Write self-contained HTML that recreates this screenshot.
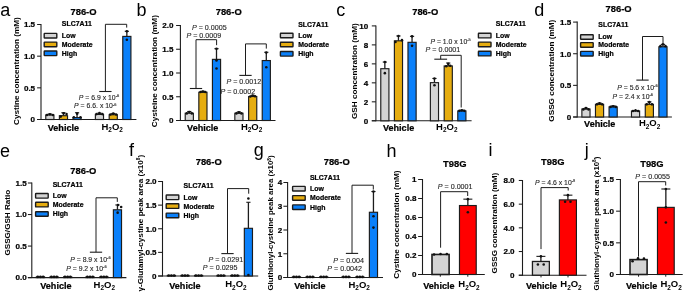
<!DOCTYPE html>
<html><head><meta charset="utf-8"><style>
html,body{margin:0;padding:0;background:#fff;}
body{width:685px;height:293px;overflow:hidden;}
svg{display:block;font-family:"Liberation Sans", sans-serif;will-change:transform;}
</style></head><body>
<svg width="685" height="293" viewBox="0 0 685 293" font-family='"Liberation Sans", sans-serif'>
<rect width="685" height="293" fill="#fff"/>
<text transform="translate(0.20,16.30) scale(1.0,1)" font-size="18" font-weight="normal" text-anchor="start" fill="#000">a</text>
<text transform="translate(83.50,15.00) scale(1.02,1)" font-size="9.2" font-weight="bold" text-anchor="middle" fill="#000" stroke="#000" stroke-width="0.22">786-O</text>
<line x1="41.00" y1="24.00" x2="41.00" y2="120.00" stroke="#1c1c1c" stroke-width="1.1"/>
<line x1="37.10" y1="119.50" x2="136.40" y2="119.50" stroke="#1c1c1c" stroke-width="1.1"/>
<line x1="37.10" y1="119.50" x2="41.00" y2="119.50" stroke="#1c1c1c" stroke-width="1.05"/>
<text transform="translate(35.10,122.30) scale(1.02,1)" font-size="7.9" font-weight="bold" text-anchor="end" fill="#000" stroke="#000" stroke-width="0.22">0</text>
<line x1="37.10" y1="87.84" x2="41.00" y2="87.84" stroke="#1c1c1c" stroke-width="1.05"/>
<text transform="translate(35.10,90.63) scale(1.02,1)" font-size="7.9" font-weight="bold" text-anchor="end" fill="#000" stroke="#000" stroke-width="0.22">0.5</text>
<line x1="37.10" y1="56.17" x2="41.00" y2="56.17" stroke="#1c1c1c" stroke-width="1.05"/>
<text transform="translate(35.10,58.97) scale(1.02,1)" font-size="7.9" font-weight="bold" text-anchor="end" fill="#000" stroke="#000" stroke-width="0.22">1.0</text>
<line x1="37.10" y1="24.50" x2="41.00" y2="24.50" stroke="#1c1c1c" stroke-width="1.05"/>
<text transform="translate(35.10,27.30) scale(1.02,1)" font-size="7.9" font-weight="bold" text-anchor="end" fill="#000" stroke="#000" stroke-width="0.22">1.5</text>
<line x1="49.85" y1="115.00" x2="49.85" y2="113.99" stroke="#1c1c1c" stroke-width="1.3"/>
<line x1="47.75" y1="113.99" x2="51.95" y2="113.99" stroke="#1c1c1c" stroke-width="1.1"/>
<rect x="45.77" y="115.00" width="8.15" height="4.50" fill="#d4d4d4" stroke="#1c1c1c" stroke-width="1.15"/>
<circle cx="46.95" cy="115.00" r="1.3" fill="#111"/>
<circle cx="49.85" cy="114.31" r="1.3" fill="#111"/>
<circle cx="52.85" cy="115.00" r="1.3" fill="#111"/>
<line x1="63.45" y1="115.70" x2="63.45" y2="112.72" stroke="#1c1c1c" stroke-width="1.3"/>
<line x1="61.35" y1="112.72" x2="65.55" y2="112.72" stroke="#1c1c1c" stroke-width="1.1"/>
<rect x="59.38" y="115.70" width="8.15" height="3.80" fill="#e6ad10" stroke="#1c1c1c" stroke-width="1.15"/>
<circle cx="60.75" cy="116.59" r="1.3" fill="#111"/>
<circle cx="63.65" cy="113.36" r="1.3" fill="#111"/>
<circle cx="66.55" cy="113.99" r="1.3" fill="#111"/>
<line x1="77.05" y1="117.60" x2="77.05" y2="112.72" stroke="#1c1c1c" stroke-width="1.3"/>
<line x1="74.95" y1="112.72" x2="79.15" y2="112.72" stroke="#1c1c1c" stroke-width="1.1"/>
<rect x="72.97" y="117.60" width="8.15" height="1.90" fill="#0a80fa" stroke="#1c1c1c" stroke-width="1.15"/>
<circle cx="73.85" cy="117.28" r="1.3" fill="#111"/>
<circle cx="77.15" cy="113.67" r="1.3" fill="#111"/>
<circle cx="80.45" cy="117.28" r="1.3" fill="#111"/>
<line x1="99.45" y1="114.43" x2="99.45" y2="113.17" stroke="#1c1c1c" stroke-width="1.3"/>
<line x1="97.35" y1="113.17" x2="101.55" y2="113.17" stroke="#1c1c1c" stroke-width="1.1"/>
<rect x="95.38" y="114.43" width="8.15" height="5.07" fill="#d4d4d4" stroke="#1c1c1c" stroke-width="1.15"/>
<circle cx="96.55" cy="114.12" r="1.3" fill="#111"/>
<circle cx="99.45" cy="113.17" r="1.3" fill="#111"/>
<circle cx="102.35" cy="114.12" r="1.3" fill="#111"/>
<line x1="113.25" y1="114.75" x2="113.25" y2="113.48" stroke="#1c1c1c" stroke-width="1.3"/>
<line x1="111.15" y1="113.48" x2="115.35" y2="113.48" stroke="#1c1c1c" stroke-width="1.1"/>
<rect x="109.17" y="114.75" width="8.15" height="4.75" fill="#e6ad10" stroke="#1c1c1c" stroke-width="1.15"/>
<circle cx="110.35" cy="114.43" r="1.3" fill="#111"/>
<circle cx="113.25" cy="113.67" r="1.3" fill="#111"/>
<circle cx="116.15" cy="114.43" r="1.3" fill="#111"/>
<line x1="126.85" y1="36.41" x2="126.85" y2="31.28" stroke="#1c1c1c" stroke-width="1.3"/>
<line x1="124.75" y1="31.28" x2="128.95" y2="31.28" stroke="#1c1c1c" stroke-width="1.1"/>
<rect x="122.77" y="36.41" width="8.15" height="83.09" fill="#0a80fa" stroke="#1c1c1c" stroke-width="1.15"/>
<circle cx="126.85" cy="31.28" r="1.3" fill="#111"/>
<circle cx="126.85" cy="39.77" r="1.3" fill="#111"/>
<text transform="translate(61.80,26.40) scale(1.02,1)" font-size="6.8" font-weight="bold" text-anchor="start" fill="#000" stroke="#000" stroke-width="0.22">SLC7A11</text>
<rect x="44.20" y="33.40" width="12.60" height="4.60" fill="#d4d4d4" stroke="#1c1c1c" stroke-width="1.4" rx="0.5"/>
<text transform="translate(61.80,38.15) scale(1.02,1)" font-size="6.8" font-weight="bold" text-anchor="start" fill="#000" stroke="#000" stroke-width="0.22">Low</text>
<rect x="44.20" y="42.10" width="12.60" height="4.60" fill="#e6ad10" stroke="#1c1c1c" stroke-width="1.4" rx="0.5"/>
<text transform="translate(61.80,46.85) scale(1.02,1)" font-size="6.8" font-weight="bold" text-anchor="start" fill="#000" stroke="#000" stroke-width="0.22">Moderate</text>
<rect x="44.20" y="51.00" width="12.60" height="4.60" fill="#0a80fa" stroke="#1c1c1c" stroke-width="1.4" rx="0.5"/>
<text transform="translate(61.80,55.75) scale(1.02,1)" font-size="6.8" font-weight="bold" text-anchor="start" fill="#000" stroke="#000" stroke-width="0.22">High</text>
<polyline points="105.40,91.50 105.40,24.30 126.70,24.30 126.70,27.60" fill="none" stroke="#1c1c1c" stroke-width="1.0"/>
<line x1="99.25" y1="91.50" x2="111.55" y2="91.50" stroke="#1c1c1c" stroke-width="1.1"/>
<text transform="translate(119.20,99.90) scale(1.02,1)" font-size="6.75" font-weight="normal" text-anchor="end" fill="#262626" stroke="#262626" stroke-width="0.12"><tspan font-style="italic">P</tspan> = 6.9 x 10<tspan font-size="3.9" dy="-2.9">-6</tspan></text>
<text transform="translate(116.40,108.40) scale(1.02,1)" font-size="6.75" font-weight="normal" text-anchor="end" fill="#262626" stroke="#262626" stroke-width="0.12"><tspan font-style="italic">P</tspan> = 6.6. x 10<tspan font-size="3.9" dy="-2.9">-6</tspan></text>
<text transform="translate(63.40,130.80) scale(1.02,1)" font-size="8.9" font-weight="bold" text-anchor="middle" fill="#000" stroke="#000" stroke-width="0.22">Vehicle</text>
<text transform="translate(112.20,129.60) scale(0.97,1)" font-size="9.8" font-weight="bold" text-anchor="middle" fill="#000">H<tspan font-size="6.6" dy="2.4">2</tspan><tspan dy="-2.4">O</tspan><tspan font-size="6.6" dy="2.4">2</tspan></text>
<text transform="translate(18.90,125.00) rotate(-90)" font-size="8.1" font-weight="bold" textLength="107.80" lengthAdjust="spacingAndGlyphs" fill="#000">Cystine concentration (mM)</text>
<text transform="translate(136.40,16.30) scale(1.0,1)" font-size="18" font-weight="normal" text-anchor="start" fill="#000">b</text>
<text transform="translate(228.70,15.00) scale(1.02,1)" font-size="9.2" font-weight="bold" text-anchor="middle" fill="#000" stroke="#000" stroke-width="0.22">786-O</text>
<line x1="180.40" y1="25.00" x2="180.40" y2="121.00" stroke="#1c1c1c" stroke-width="1.1"/>
<line x1="176.10" y1="120.50" x2="275.50" y2="120.50" stroke="#1c1c1c" stroke-width="1.1"/>
<line x1="176.10" y1="120.50" x2="180.40" y2="120.50" stroke="#1c1c1c" stroke-width="1.05"/>
<text transform="translate(173.50,123.30) scale(1.02,1)" font-size="7.9" font-weight="bold" text-anchor="end" fill="#000" stroke="#000" stroke-width="0.22">0</text>
<line x1="176.10" y1="96.75" x2="180.40" y2="96.75" stroke="#1c1c1c" stroke-width="1.05"/>
<text transform="translate(173.50,99.55) scale(1.02,1)" font-size="7.9" font-weight="bold" text-anchor="end" fill="#000" stroke="#000" stroke-width="0.22">0.5</text>
<line x1="176.10" y1="73.00" x2="180.40" y2="73.00" stroke="#1c1c1c" stroke-width="1.05"/>
<text transform="translate(173.50,75.80) scale(1.02,1)" font-size="7.9" font-weight="bold" text-anchor="end" fill="#000" stroke="#000" stroke-width="0.22">1.0</text>
<line x1="176.10" y1="49.25" x2="180.40" y2="49.25" stroke="#1c1c1c" stroke-width="1.05"/>
<text transform="translate(173.50,52.05) scale(1.02,1)" font-size="7.9" font-weight="bold" text-anchor="end" fill="#000" stroke="#000" stroke-width="0.22">1.5</text>
<line x1="176.10" y1="25.50" x2="180.40" y2="25.50" stroke="#1c1c1c" stroke-width="1.05"/>
<text transform="translate(173.50,28.30) scale(1.02,1)" font-size="7.9" font-weight="bold" text-anchor="end" fill="#000" stroke="#000" stroke-width="0.22">2.0</text>
<line x1="189.30" y1="113.23" x2="189.30" y2="111.47" stroke="#1c1c1c" stroke-width="1.3"/>
<line x1="187.20" y1="111.47" x2="191.40" y2="111.47" stroke="#1c1c1c" stroke-width="1.1"/>
<rect x="185.23" y="113.23" width="8.15" height="7.27" fill="#d4d4d4" stroke="#1c1c1c" stroke-width="1.15"/>
<circle cx="186.80" cy="113.38" r="1.3" fill="#111"/>
<circle cx="189.30" cy="111.95" r="1.3" fill="#111"/>
<circle cx="191.80" cy="113.38" r="1.3" fill="#111"/>
<line x1="202.90" y1="92.24" x2="202.90" y2="91.29" stroke="#1c1c1c" stroke-width="1.3"/>
<line x1="200.80" y1="91.29" x2="205.00" y2="91.29" stroke="#1c1c1c" stroke-width="1.1"/>
<rect x="198.83" y="92.24" width="8.15" height="28.26" fill="#e6ad10" stroke="#1c1c1c" stroke-width="1.15"/>
<circle cx="200.50" cy="92.00" r="1.3" fill="#111"/>
<circle cx="202.90" cy="91.53" r="1.3" fill="#111"/>
<circle cx="205.30" cy="92.00" r="1.3" fill="#111"/>
<line x1="216.50" y1="59.37" x2="216.50" y2="48.68" stroke="#1c1c1c" stroke-width="1.3"/>
<line x1="214.40" y1="48.68" x2="218.60" y2="48.68" stroke="#1c1c1c" stroke-width="1.1"/>
<rect x="212.43" y="59.37" width="8.15" height="61.13" fill="#0a80fa" stroke="#1c1c1c" stroke-width="1.15"/>
<circle cx="216.50" cy="48.78" r="1.3" fill="#111"/>
<circle cx="216.50" cy="60.41" r="1.3" fill="#111"/>
<circle cx="216.50" cy="68.49" r="1.3" fill="#111"/>
<line x1="238.90" y1="113.23" x2="238.90" y2="111.95" stroke="#1c1c1c" stroke-width="1.3"/>
<line x1="236.80" y1="111.95" x2="241.00" y2="111.95" stroke="#1c1c1c" stroke-width="1.1"/>
<rect x="234.83" y="113.23" width="8.15" height="7.27" fill="#d4d4d4" stroke="#1c1c1c" stroke-width="1.15"/>
<circle cx="236.40" cy="113.38" r="1.3" fill="#111"/>
<circle cx="238.90" cy="112.42" r="1.3" fill="#111"/>
<circle cx="241.40" cy="113.38" r="1.3" fill="#111"/>
<line x1="252.70" y1="96.51" x2="252.70" y2="95.33" stroke="#1c1c1c" stroke-width="1.3"/>
<line x1="250.60" y1="95.33" x2="254.80" y2="95.33" stroke="#1c1c1c" stroke-width="1.1"/>
<rect x="248.62" y="96.51" width="8.15" height="23.99" fill="#e6ad10" stroke="#1c1c1c" stroke-width="1.15"/>
<circle cx="250.30" cy="96.51" r="1.3" fill="#111"/>
<circle cx="252.70" cy="95.56" r="1.3" fill="#111"/>
<circle cx="255.10" cy="96.28" r="1.3" fill="#111"/>
<line x1="266.30" y1="60.55" x2="266.30" y2="52.29" stroke="#1c1c1c" stroke-width="1.3"/>
<line x1="264.20" y1="52.29" x2="268.40" y2="52.29" stroke="#1c1c1c" stroke-width="1.1"/>
<rect x="262.23" y="60.55" width="8.15" height="59.95" fill="#0a80fa" stroke="#1c1c1c" stroke-width="1.15"/>
<circle cx="266.30" cy="52.58" r="1.3" fill="#111"/>
<circle cx="266.30" cy="67.30" r="1.3" fill="#111"/>
<text transform="translate(298.20,26.80) scale(1.02,1)" font-size="6.8" font-weight="bold" text-anchor="start" fill="#000" stroke="#000" stroke-width="0.22">SLC7A11</text>
<rect x="280.40" y="33.20" width="12.60" height="4.60" fill="#d4d4d4" stroke="#1c1c1c" stroke-width="1.4" rx="0.5"/>
<text transform="translate(298.20,37.95) scale(1.02,1)" font-size="6.8" font-weight="bold" text-anchor="start" fill="#000" stroke="#000" stroke-width="0.22">Low</text>
<rect x="280.40" y="42.20" width="12.60" height="4.60" fill="#e6ad10" stroke="#1c1c1c" stroke-width="1.4" rx="0.5"/>
<text transform="translate(298.20,46.95) scale(1.02,1)" font-size="6.8" font-weight="bold" text-anchor="start" fill="#000" stroke="#000" stroke-width="0.22">Moderate</text>
<rect x="280.40" y="51.50" width="12.60" height="4.60" fill="#0a80fa" stroke="#1c1c1c" stroke-width="1.4" rx="0.5"/>
<text transform="translate(298.20,56.25) scale(1.02,1)" font-size="6.8" font-weight="bold" text-anchor="start" fill="#000" stroke="#000" stroke-width="0.22">High</text>
<polyline points="196.00,88.50 196.00,39.70 216.60,39.70 216.60,45.20" fill="none" stroke="#1c1c1c" stroke-width="1.0"/>
<line x1="189.85" y1="88.50" x2="202.15" y2="88.50" stroke="#1c1c1c" stroke-width="1.1"/>
<polyline points="245.50,75.40 245.50,43.90 266.30,43.90 266.30,48.60" fill="none" stroke="#1c1c1c" stroke-width="1.0"/>
<line x1="239.35" y1="75.40" x2="251.65" y2="75.40" stroke="#1c1c1c" stroke-width="1.1"/>
<text transform="translate(226.60,29.80) scale(1.02,1)" font-size="7.0" font-weight="normal" text-anchor="end" fill="#262626" stroke="#262626" stroke-width="0.12"><tspan font-style="italic">P</tspan> = 0.0005</text>
<text transform="translate(221.10,38.00) scale(1.02,1)" font-size="7.0" font-weight="normal" text-anchor="end" fill="#262626" stroke="#262626" stroke-width="0.12"><tspan font-style="italic">P</tspan> = 0.0009</text>
<text transform="translate(261.10,84.40) scale(1.02,1)" font-size="7.0" font-weight="normal" text-anchor="end" fill="#262626" stroke="#262626" stroke-width="0.12"><tspan font-style="italic">P</tspan> = 0.0012</text>
<text transform="translate(255.10,94.00) scale(1.02,1)" font-size="7.0" font-weight="normal" text-anchor="end" fill="#262626" stroke="#262626" stroke-width="0.12"><tspan font-style="italic">P</tspan> = 0.0002</text>
<text transform="translate(202.70,130.90) scale(1.02,1)" font-size="8.9" font-weight="bold" text-anchor="middle" fill="#000" stroke="#000" stroke-width="0.22">Vehicle</text>
<text transform="translate(251.60,129.70) scale(0.97,1)" font-size="9.8" font-weight="bold" text-anchor="middle" fill="#000">H<tspan font-size="6.6" dy="2.4">2</tspan><tspan dy="-2.4">O</tspan><tspan font-size="6.6" dy="2.4">2</tspan></text>
<text transform="translate(156.50,127.20) rotate(-90)" font-size="8.1" font-weight="bold" textLength="112.10" lengthAdjust="spacingAndGlyphs" fill="#000">Cysteine concentration (mM)</text>
<text transform="translate(336.20,16.10) scale(1.0,1)" font-size="18" font-weight="normal" text-anchor="start" fill="#000">c</text>
<text transform="translate(425.20,15.00) scale(1.02,1)" font-size="9.2" font-weight="bold" text-anchor="middle" fill="#000" stroke="#000" stroke-width="0.22">786-O</text>
<line x1="375.90" y1="25.40" x2="375.90" y2="121.30" stroke="#1c1c1c" stroke-width="1.1"/>
<line x1="371.80" y1="120.80" x2="471.60" y2="120.80" stroke="#1c1c1c" stroke-width="1.1"/>
<line x1="371.80" y1="120.80" x2="375.90" y2="120.80" stroke="#1c1c1c" stroke-width="1.05"/>
<text transform="translate(368.30,123.60) scale(1.02,1)" font-size="7.9" font-weight="bold" text-anchor="end" fill="#000" stroke="#000" stroke-width="0.22">0</text>
<line x1="371.80" y1="101.82" x2="375.90" y2="101.82" stroke="#1c1c1c" stroke-width="1.05"/>
<text transform="translate(368.30,104.62) scale(1.02,1)" font-size="7.9" font-weight="bold" text-anchor="end" fill="#000" stroke="#000" stroke-width="0.22">2</text>
<line x1="371.80" y1="82.84" x2="375.90" y2="82.84" stroke="#1c1c1c" stroke-width="1.05"/>
<text transform="translate(368.30,85.64) scale(1.02,1)" font-size="7.9" font-weight="bold" text-anchor="end" fill="#000" stroke="#000" stroke-width="0.22">4</text>
<line x1="371.80" y1="63.86" x2="375.90" y2="63.86" stroke="#1c1c1c" stroke-width="1.05"/>
<text transform="translate(368.30,66.66) scale(1.02,1)" font-size="7.9" font-weight="bold" text-anchor="end" fill="#000" stroke="#000" stroke-width="0.22">6</text>
<line x1="371.80" y1="44.88" x2="375.90" y2="44.88" stroke="#1c1c1c" stroke-width="1.05"/>
<text transform="translate(368.30,47.68) scale(1.02,1)" font-size="7.9" font-weight="bold" text-anchor="end" fill="#000" stroke="#000" stroke-width="0.22">8</text>
<line x1="371.80" y1="25.90" x2="375.90" y2="25.90" stroke="#1c1c1c" stroke-width="1.05"/>
<text transform="translate(368.30,28.70) scale(1.02,1)" font-size="7.9" font-weight="bold" text-anchor="end" fill="#000" stroke="#000" stroke-width="0.22">10</text>
<line x1="384.85" y1="68.70" x2="384.85" y2="62.06" stroke="#1c1c1c" stroke-width="1.3"/>
<line x1="382.75" y1="62.06" x2="386.95" y2="62.06" stroke="#1c1c1c" stroke-width="1.1"/>
<rect x="380.78" y="68.70" width="8.15" height="52.10" fill="#d4d4d4" stroke="#1c1c1c" stroke-width="1.15"/>
<circle cx="384.85" cy="62.06" r="1.3" fill="#111"/>
<circle cx="384.85" cy="73.16" r="1.3" fill="#111"/>
<line x1="398.45" y1="40.80" x2="398.45" y2="35.96" stroke="#1c1c1c" stroke-width="1.3"/>
<line x1="396.35" y1="35.96" x2="400.55" y2="35.96" stroke="#1c1c1c" stroke-width="1.1"/>
<rect x="394.38" y="40.80" width="8.15" height="80.00" fill="#e6ad10" stroke="#1c1c1c" stroke-width="1.15"/>
<circle cx="395.45" cy="42.03" r="1.3" fill="#111"/>
<circle cx="398.45" cy="35.96" r="1.3" fill="#111"/>
<circle cx="401.95" cy="40.13" r="1.3" fill="#111"/>
<line x1="412.05" y1="42.32" x2="412.05" y2="36.34" stroke="#1c1c1c" stroke-width="1.3"/>
<line x1="409.95" y1="36.34" x2="414.15" y2="36.34" stroke="#1c1c1c" stroke-width="1.1"/>
<rect x="407.98" y="42.32" width="8.15" height="78.48" fill="#0a80fa" stroke="#1c1c1c" stroke-width="1.15"/>
<circle cx="412.05" cy="36.34" r="1.3" fill="#111"/>
<circle cx="412.05" cy="45.83" r="1.3" fill="#111"/>
<line x1="434.45" y1="82.65" x2="434.45" y2="78.47" stroke="#1c1c1c" stroke-width="1.3"/>
<line x1="432.35" y1="78.47" x2="436.55" y2="78.47" stroke="#1c1c1c" stroke-width="1.1"/>
<rect x="430.38" y="82.65" width="8.15" height="38.15" fill="#d4d4d4" stroke="#1c1c1c" stroke-width="1.15"/>
<circle cx="434.45" cy="78.47" r="1.3" fill="#111"/>
<circle cx="434.45" cy="85.21" r="1.3" fill="#111"/>
<line x1="448.25" y1="65.95" x2="448.25" y2="63.01" stroke="#1c1c1c" stroke-width="1.3"/>
<line x1="446.15" y1="63.01" x2="450.35" y2="63.01" stroke="#1c1c1c" stroke-width="1.1"/>
<rect x="444.18" y="65.95" width="8.15" height="54.85" fill="#e6ad10" stroke="#1c1c1c" stroke-width="1.15"/>
<circle cx="446.25" cy="66.23" r="1.3" fill="#111"/>
<circle cx="448.25" cy="63.86" r="1.3" fill="#111"/>
<circle cx="450.25" cy="65.76" r="1.3" fill="#111"/>
<line x1="461.85" y1="110.93" x2="461.85" y2="110.17" stroke="#1c1c1c" stroke-width="1.3"/>
<line x1="459.75" y1="110.17" x2="463.95" y2="110.17" stroke="#1c1c1c" stroke-width="1.1"/>
<rect x="457.78" y="110.93" width="8.15" height="9.87" fill="#0a80fa" stroke="#1c1c1c" stroke-width="1.15"/>
<circle cx="459.35" cy="110.84" r="1.3" fill="#111"/>
<circle cx="461.85" cy="110.36" r="1.3" fill="#111"/>
<circle cx="464.35" cy="110.84" r="1.3" fill="#111"/>
<text transform="translate(495.80,26.20) scale(1.02,1)" font-size="6.8" font-weight="bold" text-anchor="start" fill="#000" stroke="#000" stroke-width="0.22">SLC7A11</text>
<rect x="478.40" y="33.30" width="12.60" height="4.60" fill="#d4d4d4" stroke="#1c1c1c" stroke-width="1.4" rx="0.5"/>
<text transform="translate(495.80,38.05) scale(1.02,1)" font-size="6.8" font-weight="bold" text-anchor="start" fill="#000" stroke="#000" stroke-width="0.22">Low</text>
<rect x="478.40" y="42.10" width="12.60" height="4.60" fill="#e6ad10" stroke="#1c1c1c" stroke-width="1.4" rx="0.5"/>
<text transform="translate(495.80,46.85) scale(1.02,1)" font-size="6.8" font-weight="bold" text-anchor="start" fill="#000" stroke="#000" stroke-width="0.22">Moderate</text>
<rect x="478.40" y="51.30" width="12.60" height="4.60" fill="#0a80fa" stroke="#1c1c1c" stroke-width="1.4" rx="0.5"/>
<text transform="translate(495.80,56.05) scale(1.02,1)" font-size="6.8" font-weight="bold" text-anchor="start" fill="#000" stroke="#000" stroke-width="0.22">High</text>
<polyline points="440.70,59.20 440.70,55.30 461.20,55.30 461.20,107.50" fill="none" stroke="#1c1c1c" stroke-width="1.0"/>
<line x1="434.30" y1="59.20" x2="447.10" y2="59.20" stroke="#1c1c1c" stroke-width="1.1"/>
<text transform="translate(470.80,43.80) scale(1.02,1)" font-size="6.75" font-weight="normal" text-anchor="end" fill="#262626" stroke="#262626" stroke-width="0.12"><tspan font-style="italic">P</tspan> = 1.0 x 10<tspan font-size="3.9" dy="-2.9">-5</tspan></text>
<text transform="translate(460.30,52.30) scale(1.02,1)" font-size="7.0" font-weight="normal" text-anchor="end" fill="#262626" stroke="#262626" stroke-width="0.12"><tspan font-style="italic">P</tspan> = 0.0001</text>
<text transform="translate(398.60,131.10) scale(1.02,1)" font-size="8.9" font-weight="bold" text-anchor="middle" fill="#000" stroke="#000" stroke-width="0.22">Vehicle</text>
<text transform="translate(446.80,129.90) scale(0.97,1)" font-size="9.8" font-weight="bold" text-anchor="middle" fill="#000">H<tspan font-size="6.6" dy="2.4">2</tspan><tspan dy="-2.4">O</tspan><tspan font-size="6.6" dy="2.4">2</tspan></text>
<text transform="translate(356.60,119.10) rotate(-90)" font-size="8.1" font-weight="bold" textLength="95.90" lengthAdjust="spacingAndGlyphs" fill="#000">GSH concentration (mM)</text>
<text transform="translate(534.30,16.10) scale(1.0,1)" font-size="18" font-weight="normal" text-anchor="start" fill="#000">d</text>
<text transform="translate(618.60,11.50) scale(1.02,1)" font-size="9.2" font-weight="bold" text-anchor="middle" fill="#000" stroke="#000" stroke-width="0.22">786-O</text>
<line x1="577.20" y1="21.59" x2="577.20" y2="117.50" stroke="#1c1c1c" stroke-width="1.1"/>
<line x1="573.10" y1="117.00" x2="671.90" y2="117.00" stroke="#1c1c1c" stroke-width="1.1"/>
<line x1="573.10" y1="117.00" x2="577.20" y2="117.00" stroke="#1c1c1c" stroke-width="1.05"/>
<text transform="translate(571.30,119.80) scale(1.02,1)" font-size="7.9" font-weight="bold" text-anchor="end" fill="#000" stroke="#000" stroke-width="0.22">0</text>
<line x1="573.10" y1="85.36" x2="577.20" y2="85.36" stroke="#1c1c1c" stroke-width="1.05"/>
<text transform="translate(571.30,88.16) scale(1.02,1)" font-size="7.9" font-weight="bold" text-anchor="end" fill="#000" stroke="#000" stroke-width="0.22">0.5</text>
<line x1="573.10" y1="53.73" x2="577.20" y2="53.73" stroke="#1c1c1c" stroke-width="1.05"/>
<text transform="translate(571.30,56.53) scale(1.02,1)" font-size="7.9" font-weight="bold" text-anchor="end" fill="#000" stroke="#000" stroke-width="0.22">1.0</text>
<line x1="573.10" y1="22.09" x2="577.20" y2="22.09" stroke="#1c1c1c" stroke-width="1.05"/>
<text transform="translate(571.30,24.89) scale(1.02,1)" font-size="7.9" font-weight="bold" text-anchor="end" fill="#000" stroke="#000" stroke-width="0.22">1.5</text>
<line x1="585.95" y1="109.03" x2="585.95" y2="108.14" stroke="#1c1c1c" stroke-width="1.3"/>
<line x1="583.85" y1="108.14" x2="588.05" y2="108.14" stroke="#1c1c1c" stroke-width="1.1"/>
<rect x="581.88" y="109.03" width="8.15" height="7.97" fill="#d4d4d4" stroke="#1c1c1c" stroke-width="1.15"/>
<circle cx="583.35" cy="109.41" r="1.3" fill="#111"/>
<circle cx="585.95" cy="108.14" r="1.3" fill="#111"/>
<circle cx="588.55" cy="109.41" r="1.3" fill="#111"/>
<line x1="599.55" y1="104.35" x2="599.55" y2="103.08" stroke="#1c1c1c" stroke-width="1.3"/>
<line x1="597.45" y1="103.08" x2="601.65" y2="103.08" stroke="#1c1c1c" stroke-width="1.1"/>
<rect x="595.47" y="104.35" width="8.15" height="12.65" fill="#e6ad10" stroke="#1c1c1c" stroke-width="1.15"/>
<circle cx="596.95" cy="104.35" r="1.3" fill="#111"/>
<circle cx="599.55" cy="103.40" r="1.3" fill="#111"/>
<circle cx="602.15" cy="104.35" r="1.3" fill="#111"/>
<line x1="613.15" y1="106.88" x2="613.15" y2="105.93" stroke="#1c1c1c" stroke-width="1.3"/>
<line x1="611.05" y1="105.93" x2="615.25" y2="105.93" stroke="#1c1c1c" stroke-width="1.1"/>
<rect x="609.07" y="106.88" width="8.15" height="10.12" fill="#0a80fa" stroke="#1c1c1c" stroke-width="1.15"/>
<circle cx="610.55" cy="106.88" r="1.3" fill="#111"/>
<circle cx="613.15" cy="106.24" r="1.3" fill="#111"/>
<circle cx="615.75" cy="106.88" r="1.3" fill="#111"/>
<line x1="635.55" y1="111.05" x2="635.55" y2="110.67" stroke="#1c1c1c" stroke-width="1.3"/>
<line x1="633.45" y1="110.67" x2="637.65" y2="110.67" stroke="#1c1c1c" stroke-width="1.1"/>
<rect x="631.47" y="111.05" width="8.15" height="5.95" fill="#d4d4d4" stroke="#1c1c1c" stroke-width="1.15"/>
<circle cx="632.95" cy="111.05" r="1.3" fill="#111"/>
<circle cx="635.55" cy="110.42" r="1.3" fill="#111"/>
<circle cx="638.15" cy="111.05" r="1.3" fill="#111"/>
<line x1="649.35" y1="104.35" x2="649.35" y2="101.82" stroke="#1c1c1c" stroke-width="1.3"/>
<line x1="647.25" y1="101.82" x2="651.45" y2="101.82" stroke="#1c1c1c" stroke-width="1.1"/>
<rect x="645.27" y="104.35" width="8.15" height="12.65" fill="#e6ad10" stroke="#1c1c1c" stroke-width="1.15"/>
<circle cx="646.75" cy="104.35" r="1.3" fill="#111"/>
<circle cx="649.35" cy="102.13" r="1.3" fill="#111"/>
<circle cx="651.95" cy="104.35" r="1.3" fill="#111"/>
<line x1="662.95" y1="46.77" x2="662.95" y2="44.37" stroke="#1c1c1c" stroke-width="1.3"/>
<line x1="660.85" y1="44.37" x2="665.05" y2="44.37" stroke="#1c1c1c" stroke-width="1.1"/>
<rect x="658.88" y="46.77" width="8.15" height="70.23" fill="#0a80fa" stroke="#1c1c1c" stroke-width="1.15"/>
<circle cx="660.45" cy="46.14" r="1.3" fill="#111"/>
<circle cx="662.95" cy="44.24" r="1.3" fill="#111"/>
<circle cx="665.45" cy="46.14" r="1.3" fill="#111"/>
<text transform="translate(598.30,27.10) scale(1.02,1)" font-size="6.8" font-weight="bold" text-anchor="start" fill="#000" stroke="#000" stroke-width="0.22">SLC7A11</text>
<rect x="580.60" y="34.70" width="12.60" height="4.60" fill="#d4d4d4" stroke="#1c1c1c" stroke-width="1.4" rx="0.5"/>
<text transform="translate(598.30,39.45) scale(1.02,1)" font-size="6.8" font-weight="bold" text-anchor="start" fill="#000" stroke="#000" stroke-width="0.22">Low</text>
<rect x="580.60" y="42.60" width="12.60" height="4.60" fill="#e6ad10" stroke="#1c1c1c" stroke-width="1.4" rx="0.5"/>
<text transform="translate(598.30,47.35) scale(1.02,1)" font-size="6.8" font-weight="bold" text-anchor="start" fill="#000" stroke="#000" stroke-width="0.22">Moderate</text>
<rect x="580.60" y="51.40" width="12.60" height="4.60" fill="#0a80fa" stroke="#1c1c1c" stroke-width="1.4" rx="0.5"/>
<text transform="translate(598.30,56.15) scale(1.02,1)" font-size="6.8" font-weight="bold" text-anchor="start" fill="#000" stroke="#000" stroke-width="0.22">High</text>
<polyline points="642.50,80.10 642.50,36.50 663.00,36.50 663.00,43.00" fill="none" stroke="#1c1c1c" stroke-width="1.0"/>
<line x1="636.35" y1="80.10" x2="648.65" y2="80.10" stroke="#1c1c1c" stroke-width="1.1"/>
<text transform="translate(657.60,89.70) scale(1.02,1)" font-size="6.75" font-weight="normal" text-anchor="end" fill="#262626" stroke="#262626" stroke-width="0.12"><tspan font-style="italic">P</tspan> = 5.6 x 10<tspan font-size="3.9" dy="-2.9">-6</tspan></text>
<text transform="translate(653.00,98.60) scale(1.02,1)" font-size="6.75" font-weight="normal" text-anchor="end" fill="#262626" stroke="#262626" stroke-width="0.12"><tspan font-style="italic">P</tspan> = 2.4 x 10<tspan font-size="3.9" dy="-2.9">-6</tspan></text>
<text transform="translate(599.70,127.40) scale(1.02,1)" font-size="8.9" font-weight="bold" text-anchor="middle" fill="#000" stroke="#000" stroke-width="0.22">Vehicle</text>
<text transform="translate(649.60,126.20) scale(0.97,1)" font-size="9.8" font-weight="bold" text-anchor="middle" fill="#000">H<tspan font-size="6.6" dy="2.4">2</tspan><tspan dy="-2.4">O</tspan><tspan font-size="6.6" dy="2.4">2</tspan></text>
<text transform="translate(553.90,121.70) rotate(-90)" font-size="8.1" font-weight="bold" textLength="102.00" lengthAdjust="spacingAndGlyphs" fill="#000">GSSG concentration (mM)</text>
<text transform="translate(0.00,156.50) scale(1.0,1)" font-size="18" font-weight="normal" text-anchor="start" fill="#000">e</text>
<text transform="translate(83.30,174.40) scale(1.02,1)" font-size="9.2" font-weight="bold" text-anchor="middle" fill="#000" stroke="#000" stroke-width="0.22">786-O</text>
<line x1="31.80" y1="182.50" x2="31.80" y2="278.10" stroke="#1c1c1c" stroke-width="1.1"/>
<line x1="27.90" y1="277.60" x2="126.40" y2="277.60" stroke="#1c1c1c" stroke-width="1.1"/>
<line x1="27.90" y1="277.60" x2="31.80" y2="277.60" stroke="#1c1c1c" stroke-width="1.05"/>
<text transform="translate(26.80,280.40) scale(1.02,1)" font-size="7.9" font-weight="bold" text-anchor="end" fill="#000" stroke="#000" stroke-width="0.22">0.0</text>
<line x1="27.90" y1="246.07" x2="31.80" y2="246.07" stroke="#1c1c1c" stroke-width="1.05"/>
<text transform="translate(26.80,248.86) scale(1.02,1)" font-size="7.9" font-weight="bold" text-anchor="end" fill="#000" stroke="#000" stroke-width="0.22">0.5</text>
<line x1="27.90" y1="214.53" x2="31.80" y2="214.53" stroke="#1c1c1c" stroke-width="1.05"/>
<text transform="translate(26.80,217.33) scale(1.02,1)" font-size="7.9" font-weight="bold" text-anchor="end" fill="#000" stroke="#000" stroke-width="0.22">1.0</text>
<line x1="27.90" y1="183.00" x2="31.80" y2="183.00" stroke="#1c1c1c" stroke-width="1.05"/>
<text transform="translate(26.80,185.79) scale(1.02,1)" font-size="7.9" font-weight="bold" text-anchor="end" fill="#000" stroke="#000" stroke-width="0.22">1.5</text>
<rect x="36.38" y="276.84" width="8.15" height="0.76" fill="#d4d4d4" stroke="#1c1c1c" stroke-width="1.15"/>
<circle cx="37.75" cy="276.84" r="1.3" fill="#111"/>
<circle cx="40.45" cy="276.84" r="1.3" fill="#111"/>
<circle cx="43.15" cy="276.84" r="1.3" fill="#111"/>
<rect x="49.98" y="276.84" width="8.15" height="0.76" fill="#e6ad10" stroke="#1c1c1c" stroke-width="1.15"/>
<circle cx="51.35" cy="276.84" r="1.3" fill="#111"/>
<circle cx="54.05" cy="276.84" r="1.3" fill="#111"/>
<circle cx="56.75" cy="276.84" r="1.3" fill="#111"/>
<rect x="63.58" y="276.84" width="8.15" height="0.76" fill="#0a80fa" stroke="#1c1c1c" stroke-width="1.15"/>
<circle cx="64.95" cy="276.84" r="1.3" fill="#111"/>
<circle cx="67.65" cy="276.84" r="1.3" fill="#111"/>
<circle cx="70.35" cy="276.84" r="1.3" fill="#111"/>
<rect x="85.98" y="276.84" width="8.15" height="0.76" fill="#d4d4d4" stroke="#1c1c1c" stroke-width="1.15"/>
<circle cx="87.35" cy="276.84" r="1.3" fill="#111"/>
<circle cx="90.05" cy="276.84" r="1.3" fill="#111"/>
<circle cx="92.75" cy="276.84" r="1.3" fill="#111"/>
<rect x="99.78" y="276.84" width="8.15" height="0.76" fill="#e6ad10" stroke="#1c1c1c" stroke-width="1.15"/>
<circle cx="101.15" cy="276.84" r="1.3" fill="#111"/>
<circle cx="103.85" cy="276.84" r="1.3" fill="#111"/>
<circle cx="106.55" cy="276.84" r="1.3" fill="#111"/>
<line x1="117.45" y1="209.80" x2="117.45" y2="204.94" stroke="#1c1c1c" stroke-width="1.3"/>
<line x1="115.35" y1="204.94" x2="119.55" y2="204.94" stroke="#1c1c1c" stroke-width="1.1"/>
<rect x="113.38" y="209.80" width="8.15" height="67.80" fill="#0a80fa" stroke="#1c1c1c" stroke-width="1.15"/>
<circle cx="117.95" cy="205.07" r="1.3" fill="#111"/>
<circle cx="121.15" cy="206.96" r="1.3" fill="#111"/>
<circle cx="117.65" cy="212.64" r="1.3" fill="#111"/>
<text transform="translate(52.70,186.50) scale(1.02,1)" font-size="6.8" font-weight="bold" text-anchor="start" fill="#000" stroke="#000" stroke-width="0.22">SLC7A11</text>
<rect x="35.60" y="193.50" width="12.60" height="4.60" fill="#d4d4d4" stroke="#1c1c1c" stroke-width="1.4" rx="0.5"/>
<text transform="translate(52.70,198.25) scale(1.02,1)" font-size="6.8" font-weight="bold" text-anchor="start" fill="#000" stroke="#000" stroke-width="0.22">Low</text>
<rect x="35.60" y="202.30" width="12.60" height="4.60" fill="#e6ad10" stroke="#1c1c1c" stroke-width="1.4" rx="0.5"/>
<text transform="translate(52.70,207.05) scale(1.02,1)" font-size="6.8" font-weight="bold" text-anchor="start" fill="#000" stroke="#000" stroke-width="0.22">Moderate</text>
<rect x="35.60" y="211.70" width="12.60" height="4.60" fill="#0a80fa" stroke="#1c1c1c" stroke-width="1.4" rx="0.5"/>
<text transform="translate(52.70,216.45) scale(1.02,1)" font-size="6.8" font-weight="bold" text-anchor="start" fill="#000" stroke="#000" stroke-width="0.22">High</text>
<polyline points="96.00,252.20 96.00,197.80 117.30,197.80 117.30,201.90" fill="none" stroke="#1c1c1c" stroke-width="1.0"/>
<line x1="89.85" y1="252.20" x2="102.15" y2="252.20" stroke="#1c1c1c" stroke-width="1.1"/>
<text transform="translate(110.60,262.00) scale(1.02,1)" font-size="6.75" font-weight="normal" text-anchor="end" fill="#262626" stroke="#262626" stroke-width="0.12"><tspan font-style="italic">P</tspan> = 8.9 x 10<tspan font-size="3.9" dy="-2.9">-6</tspan></text>
<text transform="translate(106.60,270.60) scale(1.02,1)" font-size="6.75" font-weight="normal" text-anchor="end" fill="#262626" stroke="#262626" stroke-width="0.12"><tspan font-style="italic">P</tspan> = 9.2 x 10<tspan font-size="3.9" dy="-2.9">-6</tspan></text>
<text transform="translate(55.90,289.00) scale(1.02,1)" font-size="8.9" font-weight="bold" text-anchor="middle" fill="#000" stroke="#000" stroke-width="0.22">Vehicle</text>
<text transform="translate(104.30,287.80) scale(0.97,1)" font-size="9.8" font-weight="bold" text-anchor="middle" fill="#000">H<tspan font-size="6.6" dy="2.4">2</tspan><tspan dy="-2.4">O</tspan><tspan font-size="6.6" dy="2.4">2</tspan></text>
<text transform="translate(10.30,255.60) rotate(-90)" font-size="8.1" font-weight="bold" textLength="65.90" lengthAdjust="spacingAndGlyphs" fill="#000">GSSG/GSH Ratio</text>
<text transform="translate(129.00,156.40) scale(1.0,1)" font-size="18" font-weight="normal" text-anchor="start" fill="#000">f</text>
<text transform="translate(208.70,165.40) scale(1.02,1)" font-size="9.2" font-weight="bold" text-anchor="middle" fill="#000" stroke="#000" stroke-width="0.22">786-O</text>
<line x1="162.50" y1="181.00" x2="162.50" y2="276.50" stroke="#1c1c1c" stroke-width="1.1"/>
<line x1="158.10" y1="276.00" x2="258.20" y2="276.00" stroke="#1c1c1c" stroke-width="1.1"/>
<line x1="158.10" y1="276.00" x2="162.50" y2="276.00" stroke="#1c1c1c" stroke-width="1.05"/>
<text transform="translate(156.60,278.80) scale(1.02,1)" font-size="7.9" font-weight="bold" text-anchor="end" fill="#000" stroke="#000" stroke-width="0.22">0</text>
<line x1="158.10" y1="252.38" x2="162.50" y2="252.38" stroke="#1c1c1c" stroke-width="1.05"/>
<text transform="translate(156.60,255.17) scale(1.02,1)" font-size="7.9" font-weight="bold" text-anchor="end" fill="#000" stroke="#000" stroke-width="0.22">0.5</text>
<line x1="158.10" y1="228.75" x2="162.50" y2="228.75" stroke="#1c1c1c" stroke-width="1.05"/>
<text transform="translate(156.60,231.55) scale(1.02,1)" font-size="7.9" font-weight="bold" text-anchor="end" fill="#000" stroke="#000" stroke-width="0.22">1.0</text>
<line x1="158.10" y1="205.12" x2="162.50" y2="205.12" stroke="#1c1c1c" stroke-width="1.05"/>
<text transform="translate(156.60,207.92) scale(1.02,1)" font-size="7.9" font-weight="bold" text-anchor="end" fill="#000" stroke="#000" stroke-width="0.22">1.5</text>
<line x1="158.10" y1="181.50" x2="162.50" y2="181.50" stroke="#1c1c1c" stroke-width="1.05"/>
<text transform="translate(156.60,184.30) scale(1.02,1)" font-size="7.9" font-weight="bold" text-anchor="end" fill="#000" stroke="#000" stroke-width="0.22">2.0</text>
<rect x="167.33" y="275.43" width="8.15" height="0.57" fill="#d4d4d4" stroke="#1c1c1c" stroke-width="1.15"/>
<circle cx="168.70" cy="275.43" r="1.3" fill="#111"/>
<circle cx="171.40" cy="275.43" r="1.3" fill="#111"/>
<circle cx="174.10" cy="275.43" r="1.3" fill="#111"/>
<rect x="180.93" y="275.43" width="8.15" height="0.57" fill="#e6ad10" stroke="#1c1c1c" stroke-width="1.15"/>
<circle cx="182.30" cy="275.43" r="1.3" fill="#111"/>
<circle cx="185.00" cy="275.43" r="1.3" fill="#111"/>
<circle cx="187.70" cy="275.43" r="1.3" fill="#111"/>
<rect x="194.53" y="275.43" width="8.15" height="0.57" fill="#0a80fa" stroke="#1c1c1c" stroke-width="1.15"/>
<circle cx="195.90" cy="275.43" r="1.3" fill="#111"/>
<circle cx="198.60" cy="275.43" r="1.3" fill="#111"/>
<circle cx="201.30" cy="275.43" r="1.3" fill="#111"/>
<rect x="216.93" y="275.43" width="8.15" height="0.57" fill="#d4d4d4" stroke="#1c1c1c" stroke-width="1.15"/>
<circle cx="218.30" cy="275.43" r="1.3" fill="#111"/>
<circle cx="221.00" cy="275.43" r="1.3" fill="#111"/>
<circle cx="223.70" cy="275.43" r="1.3" fill="#111"/>
<rect x="230.73" y="275.43" width="8.15" height="0.57" fill="#e6ad10" stroke="#1c1c1c" stroke-width="1.15"/>
<circle cx="232.10" cy="275.43" r="1.3" fill="#111"/>
<circle cx="234.80" cy="275.43" r="1.3" fill="#111"/>
<circle cx="237.50" cy="275.43" r="1.3" fill="#111"/>
<line x1="248.40" y1="228.32" x2="248.40" y2="202.29" stroke="#1c1c1c" stroke-width="1.3"/>
<line x1="246.30" y1="202.29" x2="250.50" y2="202.29" stroke="#1c1c1c" stroke-width="1.1"/>
<rect x="244.33" y="228.32" width="8.15" height="47.68" fill="#0a80fa" stroke="#1c1c1c" stroke-width="1.15"/>
<circle cx="248.40" cy="198.51" r="1.3" fill="#111"/>
<circle cx="248.40" cy="275.06" r="1.3" fill="#111"/>
<text transform="translate(183.60,188.40) scale(1.02,1)" font-size="6.8" font-weight="bold" text-anchor="start" fill="#000" stroke="#000" stroke-width="0.22">SLC7A11</text>
<rect x="166.20" y="195.00" width="12.60" height="4.60" fill="#d4d4d4" stroke="#1c1c1c" stroke-width="1.4" rx="0.5"/>
<text transform="translate(183.60,199.75) scale(1.02,1)" font-size="6.8" font-weight="bold" text-anchor="start" fill="#000" stroke="#000" stroke-width="0.22">Low</text>
<rect x="166.20" y="203.80" width="12.60" height="4.60" fill="#e6ad10" stroke="#1c1c1c" stroke-width="1.4" rx="0.5"/>
<text transform="translate(183.60,208.55) scale(1.02,1)" font-size="6.8" font-weight="bold" text-anchor="start" fill="#000" stroke="#000" stroke-width="0.22">Moderate</text>
<rect x="166.20" y="213.10" width="12.60" height="4.60" fill="#0a80fa" stroke="#1c1c1c" stroke-width="1.4" rx="0.5"/>
<text transform="translate(183.60,217.85) scale(1.02,1)" font-size="6.8" font-weight="bold" text-anchor="start" fill="#000" stroke="#000" stroke-width="0.22">High</text>
<polyline points="227.50,253.60 227.50,188.60 248.70,188.60 248.70,193.70" fill="none" stroke="#1c1c1c" stroke-width="1.0"/>
<line x1="221.35" y1="253.60" x2="233.65" y2="253.60" stroke="#1c1c1c" stroke-width="1.1"/>
<text transform="translate(243.20,262.00) scale(1.02,1)" font-size="7.0" font-weight="normal" text-anchor="end" fill="#262626" stroke="#262626" stroke-width="0.12"><tspan font-style="italic">P</tspan> = 0.0291</text>
<text transform="translate(237.50,269.70) scale(1.02,1)" font-size="7.0" font-weight="normal" text-anchor="end" fill="#262626" stroke="#262626" stroke-width="0.12"><tspan font-style="italic">P</tspan> = 0.0295</text>
<text transform="translate(184.90,288.60) scale(1.02,1)" font-size="8.9" font-weight="bold" text-anchor="middle" fill="#000" stroke="#000" stroke-width="0.22">Vehicle</text>
<text transform="translate(235.90,287.40) scale(0.97,1)" font-size="9.8" font-weight="bold" text-anchor="middle" fill="#000">H<tspan font-size="6.6" dy="2.4">2</tspan><tspan dy="-2.4">O</tspan><tspan font-size="6.6" dy="2.4">2</tspan></text>
<text transform="translate(143.20,291.50) rotate(-90)" font-size="8.1" font-weight="bold" textLength="136.70" lengthAdjust="spacingAndGlyphs" fill="#000">γ-Glutamyl-cystine peak area (x10<tspan font-size="4.8" dy="-2.9">8</tspan><tspan dy="2.9">)</tspan></text>
<text transform="translate(253.80,156.30) scale(1.0,1)" font-size="18" font-weight="normal" text-anchor="start" fill="#000">g</text>
<text transform="translate(336.70,165.40) scale(1.02,1)" font-size="9.2" font-weight="bold" text-anchor="middle" fill="#000" stroke="#000" stroke-width="0.22">786-O</text>
<line x1="287.60" y1="182.00" x2="287.60" y2="278.00" stroke="#1c1c1c" stroke-width="1.1"/>
<line x1="283.40" y1="277.50" x2="383.00" y2="277.50" stroke="#1c1c1c" stroke-width="1.1"/>
<line x1="283.40" y1="277.50" x2="287.60" y2="277.50" stroke="#1c1c1c" stroke-width="1.05"/>
<text transform="translate(282.30,280.30) scale(1.02,1)" font-size="7.9" font-weight="bold" text-anchor="end" fill="#000" stroke="#000" stroke-width="0.22">0</text>
<line x1="283.40" y1="253.75" x2="287.60" y2="253.75" stroke="#1c1c1c" stroke-width="1.05"/>
<text transform="translate(282.30,256.55) scale(1.02,1)" font-size="7.9" font-weight="bold" text-anchor="end" fill="#000" stroke="#000" stroke-width="0.22">1</text>
<line x1="283.40" y1="230.00" x2="287.60" y2="230.00" stroke="#1c1c1c" stroke-width="1.05"/>
<text transform="translate(282.30,232.80) scale(1.02,1)" font-size="7.9" font-weight="bold" text-anchor="end" fill="#000" stroke="#000" stroke-width="0.22">2</text>
<line x1="283.40" y1="206.25" x2="287.60" y2="206.25" stroke="#1c1c1c" stroke-width="1.05"/>
<text transform="translate(282.30,209.05) scale(1.02,1)" font-size="7.9" font-weight="bold" text-anchor="end" fill="#000" stroke="#000" stroke-width="0.22">3</text>
<line x1="283.40" y1="182.50" x2="287.60" y2="182.50" stroke="#1c1c1c" stroke-width="1.05"/>
<text transform="translate(282.30,185.30) scale(1.02,1)" font-size="7.9" font-weight="bold" text-anchor="end" fill="#000" stroke="#000" stroke-width="0.22">4</text>
<rect x="292.38" y="276.91" width="8.15" height="0.59" fill="#d4d4d4" stroke="#1c1c1c" stroke-width="1.15"/>
<circle cx="293.75" cy="276.91" r="1.3" fill="#111"/>
<circle cx="296.45" cy="276.91" r="1.3" fill="#111"/>
<circle cx="299.15" cy="276.91" r="1.3" fill="#111"/>
<rect x="305.97" y="276.91" width="8.15" height="0.59" fill="#e6ad10" stroke="#1c1c1c" stroke-width="1.15"/>
<circle cx="307.35" cy="276.91" r="1.3" fill="#111"/>
<circle cx="310.05" cy="276.91" r="1.3" fill="#111"/>
<circle cx="312.75" cy="276.91" r="1.3" fill="#111"/>
<rect x="319.57" y="276.91" width="8.15" height="0.59" fill="#0a80fa" stroke="#1c1c1c" stroke-width="1.15"/>
<circle cx="320.95" cy="276.91" r="1.3" fill="#111"/>
<circle cx="323.65" cy="276.91" r="1.3" fill="#111"/>
<circle cx="326.35" cy="276.91" r="1.3" fill="#111"/>
<rect x="341.97" y="276.91" width="8.15" height="0.59" fill="#d4d4d4" stroke="#1c1c1c" stroke-width="1.15"/>
<circle cx="343.35" cy="276.91" r="1.3" fill="#111"/>
<circle cx="346.05" cy="276.91" r="1.3" fill="#111"/>
<circle cx="348.75" cy="276.91" r="1.3" fill="#111"/>
<rect x="355.77" y="276.91" width="8.15" height="0.59" fill="#e6ad10" stroke="#1c1c1c" stroke-width="1.15"/>
<circle cx="357.15" cy="276.91" r="1.3" fill="#111"/>
<circle cx="359.85" cy="276.91" r="1.3" fill="#111"/>
<circle cx="362.55" cy="276.91" r="1.3" fill="#111"/>
<line x1="373.45" y1="212.26" x2="373.45" y2="191.52" stroke="#1c1c1c" stroke-width="1.3"/>
<line x1="371.35" y1="191.52" x2="375.55" y2="191.52" stroke="#1c1c1c" stroke-width="1.1"/>
<rect x="369.38" y="212.26" width="8.15" height="65.24" fill="#0a80fa" stroke="#1c1c1c" stroke-width="1.15"/>
<circle cx="373.45" cy="191.52" r="1.3" fill="#111"/>
<circle cx="373.45" cy="216.22" r="1.3" fill="#111"/>
<circle cx="373.45" cy="227.62" r="1.3" fill="#111"/>
<text transform="translate(310.00,179.90) scale(1.02,1)" font-size="6.8" font-weight="bold" text-anchor="start" fill="#000" stroke="#000" stroke-width="0.22">SLC7A11</text>
<rect x="292.60" y="186.40" width="12.60" height="4.60" fill="#d4d4d4" stroke="#1c1c1c" stroke-width="1.4" rx="0.5"/>
<text transform="translate(310.00,191.15) scale(1.02,1)" font-size="6.8" font-weight="bold" text-anchor="start" fill="#000" stroke="#000" stroke-width="0.22">Low</text>
<rect x="292.60" y="195.60" width="12.60" height="4.60" fill="#e6ad10" stroke="#1c1c1c" stroke-width="1.4" rx="0.5"/>
<text transform="translate(310.00,200.35) scale(1.02,1)" font-size="6.8" font-weight="bold" text-anchor="start" fill="#000" stroke="#000" stroke-width="0.22">Moderate</text>
<rect x="292.60" y="204.90" width="12.60" height="4.60" fill="#0a80fa" stroke="#1c1c1c" stroke-width="1.4" rx="0.5"/>
<text transform="translate(310.00,209.65) scale(1.02,1)" font-size="6.8" font-weight="bold" text-anchor="start" fill="#000" stroke="#000" stroke-width="0.22">High</text>
<polyline points="352.00,253.40 352.00,185.20 373.30,185.20 373.30,189.60" fill="none" stroke="#1c1c1c" stroke-width="1.0"/>
<line x1="345.85" y1="253.40" x2="358.15" y2="253.40" stroke="#1c1c1c" stroke-width="1.1"/>
<text transform="translate(364.00,262.90) scale(1.02,1)" font-size="7.0" font-weight="normal" text-anchor="end" fill="#262626" stroke="#262626" stroke-width="0.12"><tspan font-style="italic">P</tspan> = 0.004</text>
<text transform="translate(362.00,271.10) scale(1.02,1)" font-size="7.0" font-weight="normal" text-anchor="end" fill="#262626" stroke="#262626" stroke-width="0.12"><tspan font-style="italic">P</tspan> = 0.0042</text>
<text transform="translate(309.90,289.00) scale(1.02,1)" font-size="8.9" font-weight="bold" text-anchor="middle" fill="#000" stroke="#000" stroke-width="0.22">Vehicle</text>
<text transform="translate(359.20,287.80) scale(0.97,1)" font-size="9.8" font-weight="bold" text-anchor="middle" fill="#000">H<tspan font-size="6.6" dy="2.4">2</tspan><tspan dy="-2.4">O</tspan><tspan font-size="6.6" dy="2.4">2</tspan></text>
<text transform="translate(273.40,290.60) rotate(-90)" font-size="8.1" font-weight="bold" textLength="135.20" lengthAdjust="spacingAndGlyphs" fill="#000">Gluthionyl-cysteine peak area (x10<tspan font-size="4.8" dy="-2.9">8</tspan><tspan dy="2.9">)</tspan></text>
<text transform="translate(386.60,156.60) scale(1.0,1)" font-size="18" font-weight="normal" text-anchor="start" fill="#000">h</text>
<text transform="translate(454.80,167.40) scale(1.02,1)" font-size="9.2" font-weight="bold" text-anchor="middle" fill="#000" stroke="#000" stroke-width="0.22">T98G</text>
<line x1="422.50" y1="179.00" x2="422.50" y2="275.00" stroke="#1c1c1c" stroke-width="1.1"/>
<line x1="418.10" y1="274.50" x2="484.80" y2="274.50" stroke="#1c1c1c" stroke-width="1.1"/>
<line x1="418.10" y1="274.50" x2="422.50" y2="274.50" stroke="#1c1c1c" stroke-width="1.05"/>
<text transform="translate(416.40,277.30) scale(1.02,1)" font-size="7.9" font-weight="bold" text-anchor="end" fill="#000" stroke="#000" stroke-width="0.22">0</text>
<line x1="418.10" y1="255.50" x2="422.50" y2="255.50" stroke="#1c1c1c" stroke-width="1.05"/>
<text transform="translate(416.40,258.30) scale(1.02,1)" font-size="7.9" font-weight="bold" text-anchor="end" fill="#000" stroke="#000" stroke-width="0.22">0.2</text>
<line x1="418.10" y1="236.50" x2="422.50" y2="236.50" stroke="#1c1c1c" stroke-width="1.05"/>
<text transform="translate(416.40,239.30) scale(1.02,1)" font-size="7.9" font-weight="bold" text-anchor="end" fill="#000" stroke="#000" stroke-width="0.22">0.4</text>
<line x1="418.10" y1="217.50" x2="422.50" y2="217.50" stroke="#1c1c1c" stroke-width="1.05"/>
<text transform="translate(416.40,220.30) scale(1.02,1)" font-size="7.9" font-weight="bold" text-anchor="end" fill="#000" stroke="#000" stroke-width="0.22">0.6</text>
<line x1="418.10" y1="198.50" x2="422.50" y2="198.50" stroke="#1c1c1c" stroke-width="1.05"/>
<text transform="translate(416.40,201.30) scale(1.02,1)" font-size="7.9" font-weight="bold" text-anchor="end" fill="#000" stroke="#000" stroke-width="0.22">0.8</text>
<line x1="418.10" y1="179.50" x2="422.50" y2="179.50" stroke="#1c1c1c" stroke-width="1.05"/>
<text transform="translate(416.40,182.30) scale(1.02,1)" font-size="7.9" font-weight="bold" text-anchor="end" fill="#000" stroke="#000" stroke-width="0.22">1</text>
<rect x="432.00" y="254.46" width="17.10" height="20.04" fill="#d4d4d4" stroke="#1c1c1c" stroke-width="1.6"/>
<circle cx="434.05" cy="254.55" r="1.3" fill="#111"/>
<circle cx="440.55" cy="253.98" r="1.3" fill="#111"/>
<circle cx="446.85" cy="253.98" r="1.3" fill="#111"/>
<line x1="467.85" y1="205.53" x2="467.85" y2="199.16" stroke="#1c1c1c" stroke-width="1.3"/>
<line x1="463.35" y1="199.16" x2="472.35" y2="199.16" stroke="#1c1c1c" stroke-width="1.1"/>
<rect x="459.48" y="205.53" width="16.75" height="68.97" fill="#ff0000" stroke="#1c1c1c" stroke-width="1.15"/>
<circle cx="467.85" cy="199.16" r="1.3" fill="#111"/>
<circle cx="467.85" cy="212.28" r="1.3" fill="#111"/>
<polyline points="440.60,247.70 440.60,191.70 467.70,191.70 467.70,196.00" fill="none" stroke="#1c1c1c" stroke-width="1.0"/>
<line x1="440.30" y1="274.50" x2="440.30" y2="276.70" stroke="#1c1c1c" stroke-width="1.0"/>
<line x1="467.80" y1="274.50" x2="467.80" y2="276.70" stroke="#1c1c1c" stroke-width="1.0"/>
<text transform="translate(472.50,188.70) scale(1.02,1)" font-size="7.0" font-weight="normal" text-anchor="end" fill="#262626" stroke="#262626" stroke-width="0.12"><tspan font-style="italic">P</tspan> = 0.0001</text>
<text transform="translate(438.90,288.60) scale(1.02,1)" font-size="8.9" font-weight="bold" text-anchor="middle" fill="#000" stroke="#000" stroke-width="0.22">Vehicle</text>
<text transform="translate(469.00,287.40) scale(0.97,1)" font-size="9.8" font-weight="bold" text-anchor="middle" fill="#000">H<tspan font-size="6.6" dy="2.4">2</tspan><tspan dy="-2.4">O</tspan><tspan font-size="6.6" dy="2.4">2</tspan></text>
<text transform="translate(398.70,278.80) rotate(-90)" font-size="8.1" font-weight="bold" textLength="108.40" lengthAdjust="spacingAndGlyphs" fill="#000">Cystine concentration (mM)</text>
<text transform="translate(488.60,156.40) scale(1.0,1)" font-size="18" font-weight="normal" text-anchor="start" fill="#000">i</text>
<text transform="translate(552.80,164.90) scale(1.02,1)" font-size="9.2" font-weight="bold" text-anchor="middle" fill="#000" stroke="#000" stroke-width="0.22">T98G</text>
<line x1="522.50" y1="179.98" x2="522.50" y2="275.70" stroke="#1c1c1c" stroke-width="1.1"/>
<line x1="518.80" y1="275.20" x2="586.50" y2="275.20" stroke="#1c1c1c" stroke-width="1.1"/>
<line x1="518.80" y1="275.20" x2="522.50" y2="275.20" stroke="#1c1c1c" stroke-width="1.05"/>
<text transform="translate(514.60,278.00) scale(1.02,1)" font-size="7.9" font-weight="bold" text-anchor="end" fill="#000" stroke="#000" stroke-width="0.22">0</text>
<line x1="518.80" y1="251.52" x2="522.50" y2="251.52" stroke="#1c1c1c" stroke-width="1.05"/>
<text transform="translate(514.60,254.32) scale(1.02,1)" font-size="7.9" font-weight="bold" text-anchor="end" fill="#000" stroke="#000" stroke-width="0.22">2.0</text>
<line x1="518.80" y1="227.84" x2="522.50" y2="227.84" stroke="#1c1c1c" stroke-width="1.05"/>
<text transform="translate(514.60,230.64) scale(1.02,1)" font-size="7.9" font-weight="bold" text-anchor="end" fill="#000" stroke="#000" stroke-width="0.22">4.0</text>
<line x1="518.80" y1="204.16" x2="522.50" y2="204.16" stroke="#1c1c1c" stroke-width="1.05"/>
<text transform="translate(514.60,206.96) scale(1.02,1)" font-size="7.9" font-weight="bold" text-anchor="end" fill="#000" stroke="#000" stroke-width="0.22">6.0</text>
<line x1="518.80" y1="180.48" x2="522.50" y2="180.48" stroke="#1c1c1c" stroke-width="1.05"/>
<text transform="translate(514.60,183.28) scale(1.02,1)" font-size="7.9" font-weight="bold" text-anchor="end" fill="#000" stroke="#000" stroke-width="0.22">8.0</text>
<line x1="540.90" y1="261.47" x2="540.90" y2="256.37" stroke="#1c1c1c" stroke-width="1.3"/>
<line x1="536.40" y1="256.37" x2="545.40" y2="256.37" stroke="#1c1c1c" stroke-width="1.1"/>
<rect x="532.45" y="261.47" width="16.90" height="13.73" fill="#d4d4d4" stroke="#1c1c1c" stroke-width="1.3"/>
<circle cx="540.90" cy="256.37" r="1.3" fill="#111"/>
<circle cx="537.90" cy="264.43" r="1.3" fill="#111"/>
<circle cx="543.70" cy="264.43" r="1.3" fill="#111"/>
<line x1="567.90" y1="199.90" x2="567.90" y2="195.16" stroke="#1c1c1c" stroke-width="1.3"/>
<line x1="563.40" y1="195.16" x2="572.40" y2="195.16" stroke="#1c1c1c" stroke-width="1.1"/>
<rect x="559.38" y="199.90" width="17.05" height="75.30" fill="#ff0000" stroke="#1c1c1c" stroke-width="1.15"/>
<circle cx="567.90" cy="195.16" r="1.3" fill="#111"/>
<circle cx="565.10" cy="201.79" r="1.3" fill="#111"/>
<circle cx="570.50" cy="201.79" r="1.3" fill="#111"/>
<polyline points="541.00,249.10 541.00,187.60 568.20,187.60 568.20,190.50" fill="none" stroke="#1c1c1c" stroke-width="1.0"/>
<line x1="541.00" y1="275.20" x2="541.00" y2="277.40" stroke="#1c1c1c" stroke-width="1.0"/>
<line x1="568.00" y1="275.20" x2="568.00" y2="277.40" stroke="#1c1c1c" stroke-width="1.0"/>
<text transform="translate(575.30,184.70) scale(1.02,1)" font-size="6.75" font-weight="normal" text-anchor="end" fill="#262626" stroke="#262626" stroke-width="0.12"><tspan font-style="italic">P</tspan> = 4.6 x 10<tspan font-size="3.9" dy="-2.9">-8</tspan></text>
<text transform="translate(541.50,288.60) scale(1.02,1)" font-size="8.9" font-weight="bold" text-anchor="middle" fill="#000" stroke="#000" stroke-width="0.22">Vehicle</text>
<text transform="translate(571.00,287.40) scale(0.97,1)" font-size="9.8" font-weight="bold" text-anchor="middle" fill="#000">H<tspan font-size="6.6" dy="2.4">2</tspan><tspan dy="-2.4">O</tspan><tspan font-size="6.6" dy="2.4">2</tspan></text>
<text transform="translate(496.50,273.40) rotate(-90)" font-size="8.1" font-weight="bold" textLength="100.60" lengthAdjust="spacingAndGlyphs" fill="#000">GSSG concentration (mM)</text>
<text transform="translate(584.80,156.40) scale(1.0,1)" font-size="18" font-weight="normal" text-anchor="start" fill="#000">j</text>
<text transform="translate(651.90,167.10) scale(1.02,1)" font-size="9.2" font-weight="bold" text-anchor="middle" fill="#000" stroke="#000" stroke-width="0.22">T98G</text>
<line x1="620.40" y1="179.00" x2="620.40" y2="275.00" stroke="#1c1c1c" stroke-width="1.1"/>
<line x1="616.10" y1="274.50" x2="682.70" y2="274.50" stroke="#1c1c1c" stroke-width="1.1"/>
<line x1="616.10" y1="274.50" x2="620.40" y2="274.50" stroke="#1c1c1c" stroke-width="1.05"/>
<text transform="translate(614.00,277.30) scale(1.02,1)" font-size="7.9" font-weight="bold" text-anchor="end" fill="#000" stroke="#000" stroke-width="0.22">0</text>
<line x1="616.10" y1="242.84" x2="620.40" y2="242.84" stroke="#1c1c1c" stroke-width="1.05"/>
<text transform="translate(614.00,245.63) scale(1.02,1)" font-size="7.9" font-weight="bold" text-anchor="end" fill="#000" stroke="#000" stroke-width="0.22">0.5</text>
<line x1="616.10" y1="211.17" x2="620.40" y2="211.17" stroke="#1c1c1c" stroke-width="1.05"/>
<text transform="translate(614.00,213.97) scale(1.02,1)" font-size="7.9" font-weight="bold" text-anchor="end" fill="#000" stroke="#000" stroke-width="0.22">1.0</text>
<line x1="616.10" y1="179.50" x2="620.40" y2="179.50" stroke="#1c1c1c" stroke-width="1.05"/>
<text transform="translate(614.00,182.30) scale(1.02,1)" font-size="7.9" font-weight="bold" text-anchor="end" fill="#000" stroke="#000" stroke-width="0.22">1.5</text>
<rect x="630.00" y="259.62" width="17.10" height="14.88" fill="#d4d4d4" stroke="#1c1c1c" stroke-width="1.6"/>
<circle cx="632.55" cy="261.20" r="1.3" fill="#111"/>
<circle cx="638.05" cy="258.35" r="1.3" fill="#111"/>
<circle cx="643.95" cy="258.67" r="1.3" fill="#111"/>
<line x1="665.85" y1="207.37" x2="665.85" y2="189.00" stroke="#1c1c1c" stroke-width="1.3"/>
<line x1="661.35" y1="189.00" x2="670.35" y2="189.00" stroke="#1c1c1c" stroke-width="1.1"/>
<rect x="657.48" y="207.37" width="16.75" height="67.13" fill="#ff0000" stroke="#1c1c1c" stroke-width="1.15"/>
<circle cx="665.85" cy="189.00" r="1.3" fill="#111"/>
<circle cx="665.85" cy="207.37" r="1.3" fill="#111"/>
<circle cx="665.85" cy="222.57" r="1.3" fill="#111"/>
<polyline points="638.50,256.70 638.50,181.70 665.70,181.70 665.70,185.50" fill="none" stroke="#1c1c1c" stroke-width="1.0"/>
<line x1="638.55" y1="274.50" x2="638.55" y2="276.70" stroke="#1c1c1c" stroke-width="1.0"/>
<line x1="665.75" y1="274.50" x2="665.75" y2="276.70" stroke="#1c1c1c" stroke-width="1.0"/>
<text transform="translate(670.00,178.50) scale(1.02,1)" font-size="7.0" font-weight="normal" text-anchor="end" fill="#262626" stroke="#262626" stroke-width="0.12"><tspan font-style="italic">P</tspan> = 0.0055</text>
<text transform="translate(641.60,288.60) scale(1.02,1)" font-size="8.9" font-weight="bold" text-anchor="middle" fill="#000" stroke="#000" stroke-width="0.22">Vehicle</text>
<text transform="translate(671.10,287.40) scale(0.97,1)" font-size="9.8" font-weight="bold" text-anchor="middle" fill="#000">H<tspan font-size="6.6" dy="2.4">2</tspan><tspan dy="-2.4">O</tspan><tspan font-size="6.6" dy="2.4">2</tspan></text>
<text transform="translate(598.70,290.40) rotate(-90)" font-size="8.1" font-weight="bold" textLength="133.70" lengthAdjust="spacingAndGlyphs" fill="#000">Gluthionyl-cysteine peak area (x10<tspan font-size="4.8" dy="-2.9">8</tspan><tspan dy="2.9">)</tspan></text>
</svg></body></html>
